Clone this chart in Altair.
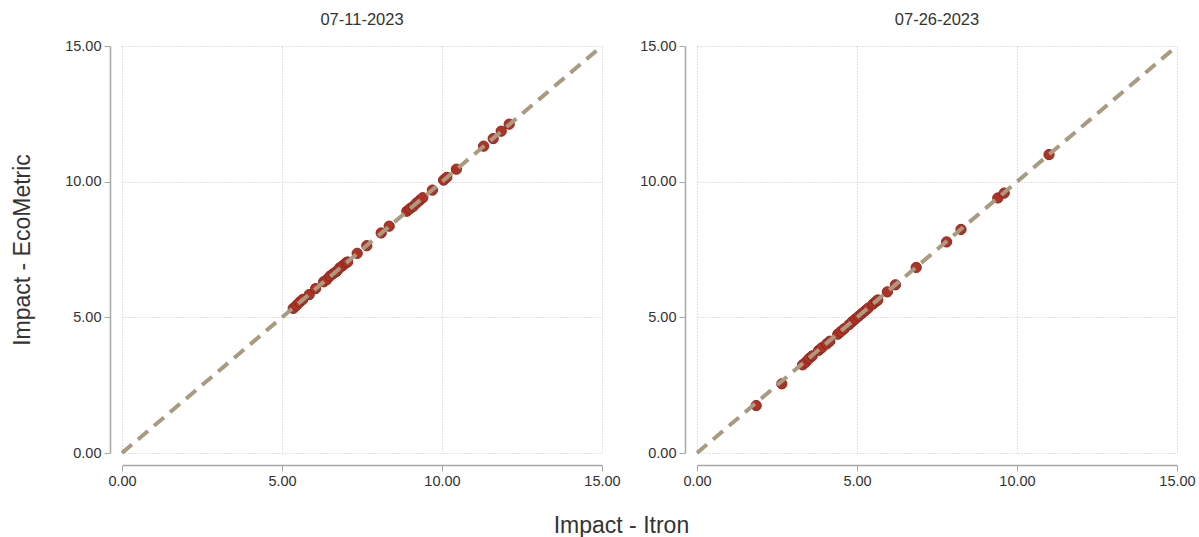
import altair as alt
import pandas as pd

# Impact estimates per site, two evaluation dates
itron_0711 = [5.35, 5.45, 5.55, 5.65, 5.85, 6.05, 6.30, 6.40, 6.50, 6.60, 6.70, 6.80,
              6.90, 7.00, 7.05, 7.35, 7.65, 8.10, 8.35, 8.90, 9.00, 9.10, 9.20, 9.30,
              9.40, 9.70, 10.05, 10.15, 10.45, 11.30, 11.60, 11.85, 12.10]
ecometric_0711 = [5.33, 5.44, 5.56, 5.66, 5.84, 6.06, 6.31, 6.39, 6.52, 6.61, 6.69, 6.82,
                  6.91, 7.01, 7.04, 7.36, 7.64, 8.11, 8.36, 8.91, 9.01, 9.09, 9.21, 9.31,
                  9.41, 9.69, 10.06, 10.16, 10.46, 11.31, 11.59, 11.86, 12.12]

itron_0726 = [1.85, 2.65, 3.30, 3.40, 3.50, 3.60, 3.80, 3.90, 4.05, 4.15, 4.40, 4.50,
              4.60, 4.75, 4.85, 4.95, 5.05, 5.15, 5.25, 5.35, 5.50, 5.60, 5.65, 5.95,
              6.20, 6.85, 7.80, 8.25, 9.40, 9.60, 11.00]
ecometric_0726 = [1.75, 2.55, 3.25, 3.35, 3.48, 3.58, 3.78, 3.88, 4.02, 4.12, 4.38, 4.48,
                  4.58, 4.73, 4.84, 4.94, 5.04, 5.14, 5.24, 5.34, 5.49, 5.59, 5.64, 5.94,
                  6.20, 6.84, 7.78, 8.24, 9.40, 9.58, 11.00]

dates = ["07-11-2023", "07-26-2023"]
tick_values = [0, 5, 10, 15]
diag = pd.DataFrame({"a": [0, 15], "b": [0, 15]})

FONT = "Liberation Sans"


def panel(title, xs, ys):
    pts = pd.DataFrame({"itron": xs, "ecometric": ys})
    x_enc = alt.X("itron:Q", title=None,
                  scale=alt.Scale(domain=[0, 15], nice=False),
                  axis=alt.Axis(values=tick_values, format=".2f", offset=12))
    y_enc = alt.Y("ecometric:Q", title="Impact - EcoMetric" if title == dates[0] else None,
                  scale=alt.Scale(domain=[0, 15], nice=False),
                  axis=alt.Axis(values=tick_values, format=".2f", offset=12))
    points = alt.Chart(pts).mark_circle(
        size=105, color="#ad3326", opacity=1, stroke="#8e2619", strokeWidth=1
    ).encode(x=x_enc, y=y_enc)
    line = alt.Chart(diag).mark_line(
        color="#a99a80", strokeWidth=4, strokeDash=[13, 8]
    ).encode(x=alt.X("a:Q"), y=alt.Y("b:Q"))
    return alt.layer(points, line).properties(
        width=480, height=407,
        title=alt.TitleParams(title, fontSize=16.5, font=FONT, color="#333333",
                              fontWeight="normal", offset=10)
    )


chart = alt.hconcat(
    panel(dates[0], itron_0711, ecometric_0711),
    panel(dates[1], itron_0726, ecometric_0726),
    spacing=18,
).properties(
    padding={"left": 11, "top": 11, "right": 0, "bottom": 5},
    title=alt.TitleParams("Impact - Itron", orient="bottom", anchor="middle",
                          fontSize=23, font=FONT, color="#333333",
                          fontWeight="normal", offset=27, dx=18),
).configure_view(
    stroke=None
).configure_axis(
    grid=True, gridColor="#c4c4c4", gridDash=[1, 2], gridWidth=1,
    domainColor="#a8a8a8", domainWidth=1.5, tickColor="#a8a8a8", tickSize=6,
    labelFont=FONT, labelFontSize=14.5, labelColor="#333333", labelPadding=3,
    labelFlush=False,
    titleFont=FONT, titleFontSize=23, titleColor="#333333", titleFontWeight="normal",
    titlePadding=30,
)

chart.save("out.html", embed_options={"renderer": "svg", "actions": False})
